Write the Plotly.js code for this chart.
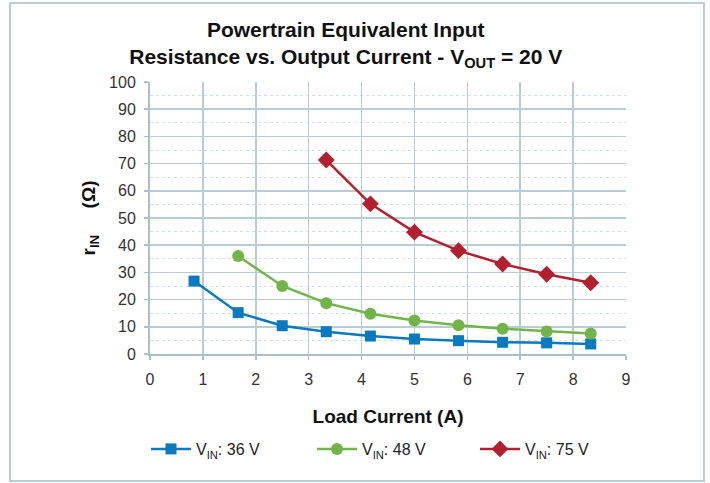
<!DOCTYPE html>
<html><head><meta charset="utf-8">
<script src="https://cdn.plot.ly/plotly-3.0.1.min.js"></script>
<style>html,body{margin:0;padding:0;background:#fff}#chart{width:710px;height:483px}</style>
</head><body><div id="chart"></div>
<script>
const loadCurrent = [0.833, 1.667, 2.5, 3.333, 4.167, 5.0, 5.833, 6.667, 7.5, 8.333];
const rin36 = [26.8, 15.2, 10.4, 8.2, 6.6, 5.5, 4.9, 4.3, 4.1, 3.7];
const x48 = [1.667, 2.5, 3.333, 4.167, 5.0, 5.833, 6.667, 7.5, 8.333];
const rin48 = [36.0, 25.0, 18.7, 14.8, 12.3, 10.6, 9.3, 8.3, 7.5];
const x75 = [3.333, 4.167, 5.0, 5.833, 6.667, 7.5, 8.333];
const rin75 = [71.3, 55.2, 44.8, 38.0, 33.1, 29.3, 26.2];
const seriesNames = ['V<sub>IN</sub>: 36 V', 'V<sub>IN</sub>: 48 V', 'V<sub>IN</sub>: 75 V'];
const xTicks = [0,1,2,3,4,5,6,7,8,9];
const yTicks = [0,10,20,30,40,50,60,70,80,90,100];

const font = 'Liberation Sans, Arial, sans-serif';
const traces = [
  {x: loadCurrent, y: rin36, name: seriesNames[0], mode: 'lines+markers', legend: 'legend', showlegend: true,
   line: {color: '#0a79bd', width: 2.5}, marker: {symbol: 'square', size: 11, color: '#0a79bd'}},
  {x: x48, y: rin48, name: seriesNames[1], mode: 'lines+markers', legend: 'legend2', showlegend: true,
   line: {color: '#71b54a', width: 2.5}, marker: {symbol: 'circle', size: 12, color: '#71b54a'}},
  {x: x75, y: rin75, name: seriesNames[2], mode: 'lines+markers', legend: 'legend3', showlegend: true,
   line: {color: '#b2202f', width: 2.5}, marker: {symbol: 'diamond', size: 13, color: '#b2202f'}}
];
const gridC = '#b9cbd3';
function legendAt(px) {
  return {orientation: 'h', xref: 'container', yref: 'container', x: px / 710, xanchor: 'left',
          y: (483 - 449) / 483, yanchor: 'middle', bgcolor: 'rgba(0,0,0,0)', visible: true,
          itemwidth: 40,
          font: {family: font, size: 16, color: '#222'}, itemclick: false};
}
const layout = {
  width: 710, height: 483,
  showlegend: true,
  margin: {l: 150, r: 84, t: 82, b: 129, autoexpand: false},
  paper_bgcolor: '#fff', plot_bgcolor: '#fff',
  font: {family: font, size: 16, color: '#333'},
  title: {text: '<b>Powertrain Equivalent Input<br>Resistance vs. Output Current - V<sub>OUT</sub> = 20 V</b>',
          font: {family: font, size: 21, color: '#111'}, x: 0.487, xanchor: 'center', y: 0.924, yanchor: 'middle'},
  xaxis: {range: [0, 9], tickvals: xTicks, ticktext: xTicks.map(String),
          showgrid: true, gridcolor: gridC, gridwidth: 1.5, zeroline: false,
          showline: true, linecolor: '#a9c0cb', linewidth: 2, mirror: false,
          ticks: 'outside', ticklen: 4, tickcolor: '#a9c0cb', tickwidth: 1.5, ticklabelstandoff: 6,
          tickfont: {family: font, size: 16, color: '#333'},
          title: {text: '<b>Load Current (A)</b>', font: {family: font, size: 19, color: '#111'}, standoff: 22},
          fixedrange: true},
  yaxis: {range: [0, 100], tickvals: yTicks, ticktext: yTicks.map(String),
          showgrid: true, gridcolor: gridC, gridwidth: 1.5, zeroline: false,
          showline: true, linecolor: '#a9c0cb', linewidth: 2,
          ticks: 'outside', ticklen: 4, tickcolor: '#a9c0cb', tickwidth: 1.5, ticklabelstandoff: 5,
          tickfont: {family: font, size: 16, color: '#333'},
          minor: {dtick: 5, showgrid: true, gridcolor: '#d5e0e5', griddash: 'dot', gridwidth: 1, ticks: ''},
          title: {text: '<b>r<sub>IN</sub>     (Ω)</b>', font: {family: font, size: 19, color: '#111'}, standoff: 8},
          fixedrange: true},
  legend: legendAt(146),
  legend2: legendAt(312),
  legend3: legendAt(475),
  shapes: [{type: 'rect', xref: 'paper', yref: 'paper',
            x0: (10-150)/476, x1: (704-150)/476, y0: (354-481)/272, y1: (354-3)/272,
            line: {color: '#b9cdd6', width: 2}, layer: 'below'}]
};
Plotly.newPlot('chart', traces, layout, {displayModeBar: false, staticPlot: true});
</script></body></html>
